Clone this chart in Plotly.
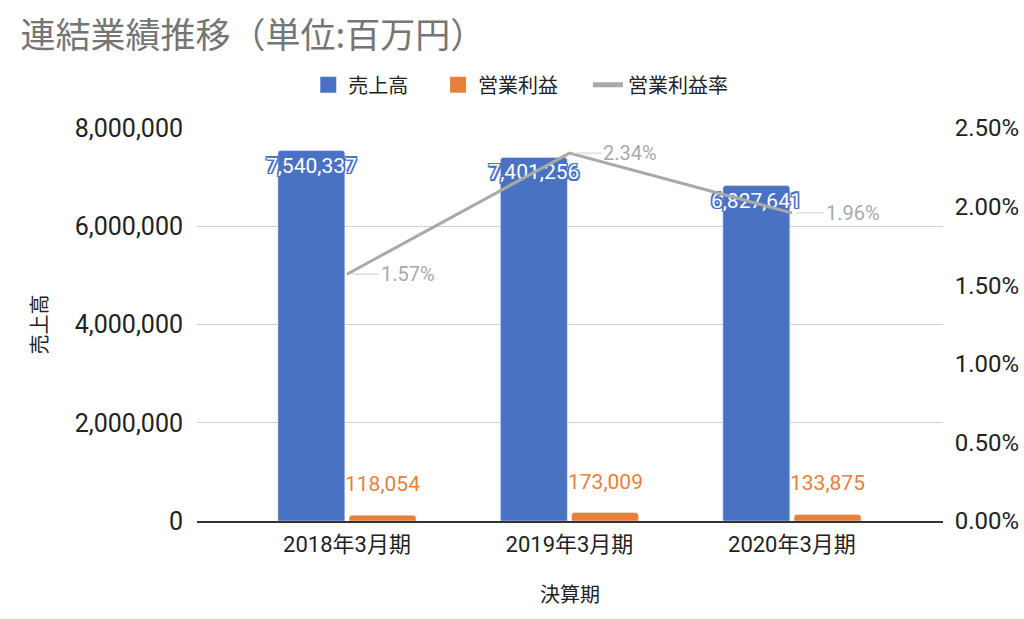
import plotly.graph_objects as go

periods = ['2018年3月期', '2019年3月期', '2020年3月期']
sales = [7540337, 7401256, 6827641]
op_profit = [118054, 173009, 133875]
op_margin = [0.0157, 0.0234, 0.0196]

blue = '#4a72c2'
orange = '#e8803c'
gray = '#a9a9a9'
font_fam = 'Roboto, Noto Sans CJK JP, sans-serif'
pad = '\u00a0' * 5

outline = ', '.join(f'{dx}px {dy}px 0 {blue}' for dx in (-1.5, 0, 1.5) for dy in (-1.5, 0, 1.5)
                    if (dx, dy) != (0, 0))

fig = go.Figure()
fig.add_trace(go.Bar(
    x=periods, y=sales, name='売上高', marker=dict(color=blue, cornerradius=3), showlegend=False,
    text=[f'{v:,}' for v in sales], textposition='inside', insidetextanchor='end',
    constraintext='none', textangle=0,
    textfont=dict(color='white', size=21, family=font_fam, shadow=outline),
))
fig.add_trace(go.Bar(
    x=periods, y=op_profit, name='営業利益', marker=dict(color=orange, cornerradius=3),
    showlegend=False,
))
fig.add_trace(go.Scatter(
    x=periods, y=op_margin, name='営業利益率', mode='lines', yaxis='y2',
    line=dict(color=gray, width=3), showlegend=False,
))

# 凡例用
fig.add_trace(go.Scatter(x=[None], y=[None], mode='markers', name='売上高' + pad,
                         marker=dict(symbol='square', size=16, color=blue)))
fig.add_trace(go.Scatter(x=[None], y=[None], mode='markers', name='営業利益' + pad,
                         marker=dict(symbol='square', size=16, color=orange)))
fig.add_trace(go.Scatter(x=[None], y=[None], mode='lines', name='営業利益率',
                         line=dict(color=gray, width=5)))

# 営業利益ラベル
for p, v in zip(periods, op_profit):
    fig.add_annotation(x=p, y=v, xshift=36, yshift=17, yanchor='bottom', showarrow=False,
                       text=f'{v:,}', font=dict(color=orange, size=21, family=font_fam))

# 営業利益率ラベル
for p, v in zip(periods, op_margin):
    fig.add_annotation(x=p, y=v, yref='y2', ax=32, ay=0, xanchor='left', showarrow=True,
                       arrowhead=0, arrowwidth=1.2, arrowcolor='#d9d9d9', standoff=4,
                       text=f'{v*100:.2f}%', font=dict(color=gray, size=20, family=font_fam))

fig.update_layout(
    width=1024, height=619,
    title=dict(text='連結業績推移（単位:百万円）', x=0.02, xanchor='left', y=0.943, yanchor='middle',
               font=dict(size=35, color='#757575', family='Noto Sans CJK JP')),
    barmode='group', bargap=0.36, bargroupgap=0.06,
    paper_bgcolor='white', plot_bgcolor='white',
    font=dict(family=font_fam, size=22, color='#222222'),
    margin=dict(l=197, r=81, t=128, b=98),
    showlegend=True,
    legend=dict(orientation='h', x=0.434, xanchor='center', y=1.11, yanchor='middle',
                font=dict(size=20, color='#222222'), itemwidth=30),
    xaxis=dict(range=[-0.674, 2.679], showline=True, linecolor='#333333', linewidth=1.5,
               ticks='outside', tickcolor='white', ticklen=3, tickfont=dict(size=22),
               automargin=False,
               title=dict(text='決算期', standoff=32, font=dict(size=20))),
    yaxis=dict(range=[0, 8000000], dtick=2000000, tickformat=',', showgrid=True,
               gridcolor='#d0d0d0', zeroline=False, ticks='outside', tickcolor='white', ticklen=8,
               tickfont=dict(size=25), automargin=False,
               title=dict(text='売上高', standoff=21, font=dict(size=20))),
    yaxis2=dict(range=[0, 0.025], dtick=0.005, tickformat='.2%', overlaying='y', side='right',
                showgrid=False, zeroline=False, ticks='outside', tickcolor='white', ticklen=6,
                tickfont=dict(size=24), automargin=False),
)

fig.write_html('out.html', config={'displayModeBar': False},
               post_script="document.body.style.margin='0';")
